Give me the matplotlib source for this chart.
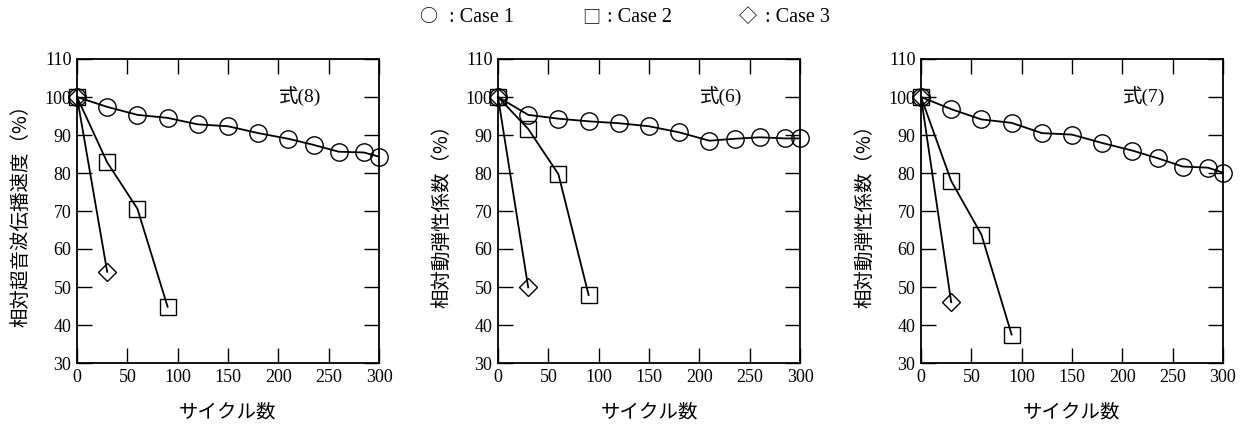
import matplotlib
matplotlib.use("Agg")
import matplotlib.pyplot as plt

plt.rcParams['font.family'] = ['Liberation Serif', 'Noto Sans CJK JP', 'DejaVu Sans']

cycles_c1 = [0, 30, 60, 90, 120, 150, 180, 210, 235, 260, 285, 300]
cycles_c2 = [0, 30, 60, 90]
cycles_c3 = [0, 30]

p1_c1 = [100, 97.4, 95.3, 94.5, 92.8, 92.3, 90.5, 89.0, 87.4, 85.6, 85.4, 84.3]
p1_c2 = [100, 82.8, 70.6, 44.8]
p1_c3 = [100, 54.0]

p2_c1 = [100, 95.3, 94.3, 93.6, 93.1, 92.3, 90.7, 88.5, 89.0, 89.4, 89.1, 89.1]
p2_c2 = [100, 91.6, 79.7, 47.9]
p2_c3 = [100, 49.9]

p3_c1 = [100, 96.8, 94.1, 93.2, 90.5, 90.1, 87.9, 85.9, 83.9, 81.7, 81.4, 80.1]
p3_c2 = [100, 77.9, 63.8, 37.5]
p3_c3 = [100, 46.0]

ylabels = ['相対超音波伝播速度（%）', '相対動弾性係数（%）', '相対動弾性係数（%）']
eq_labels = ['式(8)', '式(6)', '式(7)']
xlabel = 'サイクル数'
xticks = [0, 50, 100, 150, 200, 250, 300]
yticks = [30, 40, 50, 60, 70, 80, 90, 100, 110]
legend_symbols = ['○', '□', '◇']
legend_labels = [': Case 1', ': Case 2', ': Case 3']

panels = [(p1_c1, p1_c2, p1_c3), (p2_c1, p2_c2, p2_c3), (p3_c1, p3_c2, p3_c3)]

fig = plt.figure(figsize=(12.46, 4.30), dpi=100)
lefts = [77, 498, 921]
W, H = 1246, 430
for i, (c1, c2, c3) in enumerate(panels):
    ax = fig.add_axes([lefts[i] / W, 1 - 363 / H, 302 / W, 304 / H])
    kw = dict(color='black', lw=1.3, mfc='none', mec='black', mew=1.0, clip_on=False)
    ax.plot(cycles_c1, c1, marker='o', ms=12.5, **kw)
    ax.plot(cycles_c2, c2, marker='s', ms=12, **kw)
    ax.plot(cycles_c3, c3, marker='D', ms=9.5, **kw)
    ax.set_xlim(0, 300)
    ax.set_ylim(30, 110)
    ax.set_xticks(xticks)
    ax.set_yticks(yticks)
    ax.tick_params(direction='in', length=11, width=1.0, top=True, right=True,
                   labelsize=13, pad=4)
    for s in ax.spines.values():
        s.set_linewidth(1.3)
    ax.set_ylabel(ylabels[i], fontsize=14, family=['Noto Sans CJK JP'])
    ax.yaxis.set_label_coords(-0.15, 0.5)
    ax.set_xlabel(xlabel, fontsize=14, family=['Noto Sans CJK JP'])
    ax.xaxis.set_label_coords(0.5, -0.125)
    ax.text(0.74, 0.875, eq_labels[i], transform=ax.transAxes, ha='center',
            va='center', fontsize=14)

for sym, lbl, xs, xt in zip(legend_symbols, legend_labels, [428, 591, 748], [449, 607, 765]):
    fig.text(xs / W, 1 - 17 / H, sym, ha='center', va='center', fontsize=13,
             family=['Noto Sans CJK JP'])
    fig.text(xt / W, 1 - 17 / H, lbl, ha='left', va='center', fontsize=14.5)

fig.savefig('out.png', dpi=100)
